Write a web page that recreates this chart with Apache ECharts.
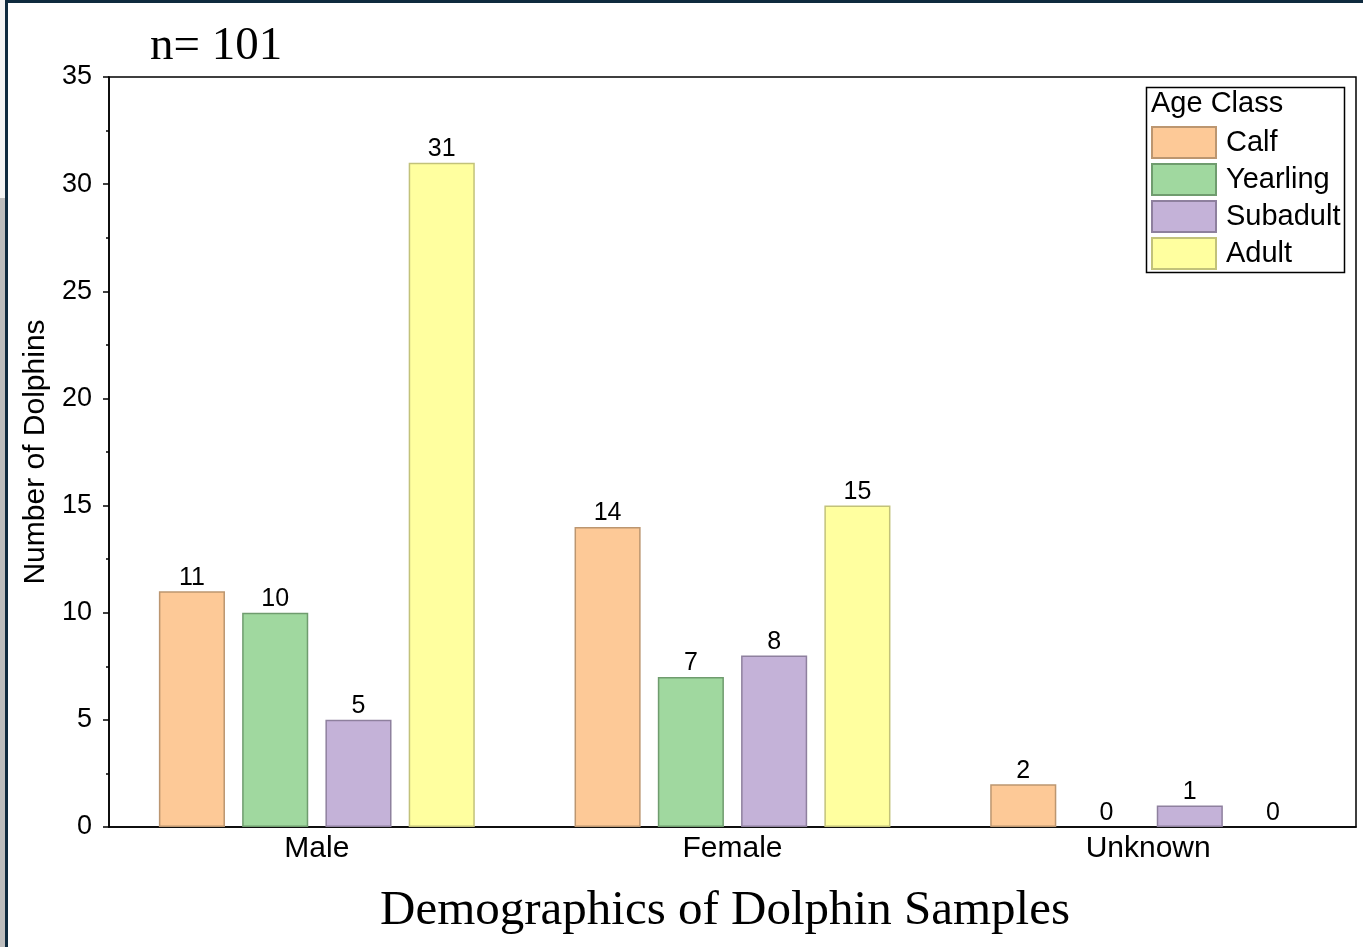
<!DOCTYPE html>
<html>
<head>
<meta charset="utf-8">
<script src="https://cdn.jsdelivr.net/npm/echarts@6/dist/echarts.min.js"></script>
<style>html,body{margin:0;padding:0;background:#fff;}#c{width:1363px;height:947px;}</style>
</head>
<body>
<div id="c"></div>
<script>
const categories = ['Male', 'Female', 'Unknown'];
const calf = [11, 14, 2];
const yearling = [10, 7, 0];
const subadult = [5, 8, 1];
const adult = [31, 15, 0];
const seriesNames = ['Calf', 'Yearling', 'Subadult', 'Adult'];
const yTicks = { min: 0, max: 35, interval: 5 };

const fills = ['#FDC997', '#A0D89F', '#C4B2D8', '#FFFF9F'];
const borders = ['#BC9670', '#6F9C6E', '#8E809E', '#C2C27A'];
const values = [calf, yearling, subadult, adult];

const chart = echarts.init(document.getElementById('c'), null, { renderer: 'canvas' });
const font = 'Liberation Sans, Arial, sans-serif';
const serif = 'Liberation Serif, Times New Roman, serif';

chart.setOption({
  animation: false,
  backgroundColor: '#fff',
  grid: { left: 109, right: 7, top: 77, bottom: 120, show: true, borderColor: '#000', borderWidth: 1.5, backgroundColor: 'transparent' },
  legend: {
    data: seriesNames,
    orient: 'vertical',
    left: 1151, top: 126,
    itemWidth: 64, itemHeight: 31, itemGap: 4,
    icon: 'rect',
    padding: 0,
    textStyle: { fontFamily: font, fontSize: 29, lineHeight: 31, color: '#000', padding: [0, 0, 0, 5] }
  },
  xAxis: {
    type: 'category',
    data: categories,
    axisLine: { lineStyle: { color: '#000', width: 1.5 } },
    axisTick: { show: false },
    axisLabel: { fontFamily: font, fontSize: 30, color: '#000', margin: 7 }
  },
  yAxis: {
    type: 'value',
    min: yTicks.min, max: yTicks.max, interval: yTicks.interval,
    name: 'Number of Dolphins',
    nameLocation: 'middle',
    nameGap: 55,
    nameTextStyle: { fontFamily: font, fontSize: 30, color: '#000' },
    axisLine: { show: true, lineStyle: { color: '#000', width: 1.5 } },
    axisTick: { show: true, inside: false, length: 6, lineStyle: { color: '#000', width: 1.5 } },
    minorTick: { show: true, splitNumber: 2, length: 3, lineStyle: { color: '#000', width: 1.5 } },
    splitLine: { show: false },
    axisLabel: { fontFamily: font, fontSize: 27, color: '#000', margin: 17 }
  },
  series: seriesNames.map((n, i) => ({
    name: n,
    type: 'bar',
    data: values[i].map(v => v === 0 ? { value: v, itemStyle: { borderWidth: 0 } } : v),
    barCategoryGap: '24%',
    barGap: '26%',
    itemStyle: { color: fills[i], borderColor: borders[i], borderWidth: 1.5 },
    label: { show: true, position: 'top', distance: 1, fontFamily: font, fontSize: 25, color: '#000' }
  })),
  graphic: [
    { type: 'rect', left: 0, top: 0, shape: { width: 1363, height: 3 }, style: { fill: '#0f2a3e' }, z: 100 },
    { type: 'rect', left: 0, top: 0, shape: { width: 5, height: 198 }, style: { fill: '#f4f4f4' }, z: 100 },
    { type: 'rect', left: 0, top: 198, shape: { width: 5, height: 749 }, style: { fill: '#bdbdbd' }, z: 100 },
    { type: 'rect', left: 5, top: 0, shape: { width: 3, height: 947 }, style: { fill: '#0f2a3e' }, z: 100 },
    { type: 'rect', left: 1144, top: 85, shape: { width: 198, height: 185 }, style: { fill: 'none', stroke: '#000', lineWidth: 1.5 }, z: 10 },
    { type: 'text', left: 1151, top: 89, style: { text: 'Age Class', font: '29px ' + font, fill: '#000' }, z: 10 },
    { type: 'text', left: 150, top: 23, style: { text: 'n= 101', font: '47px ' + serif, fill: '#000' }, z: 10 },
    { type: 'text', x: 725, y: 911, style: { text: 'Demographics of Dolphin Samples', font: '49px ' + serif, fill: '#000', align: 'center', verticalAlign: 'middle' }, z: 10 }
  ]
});
</script>
</body>
</html>
